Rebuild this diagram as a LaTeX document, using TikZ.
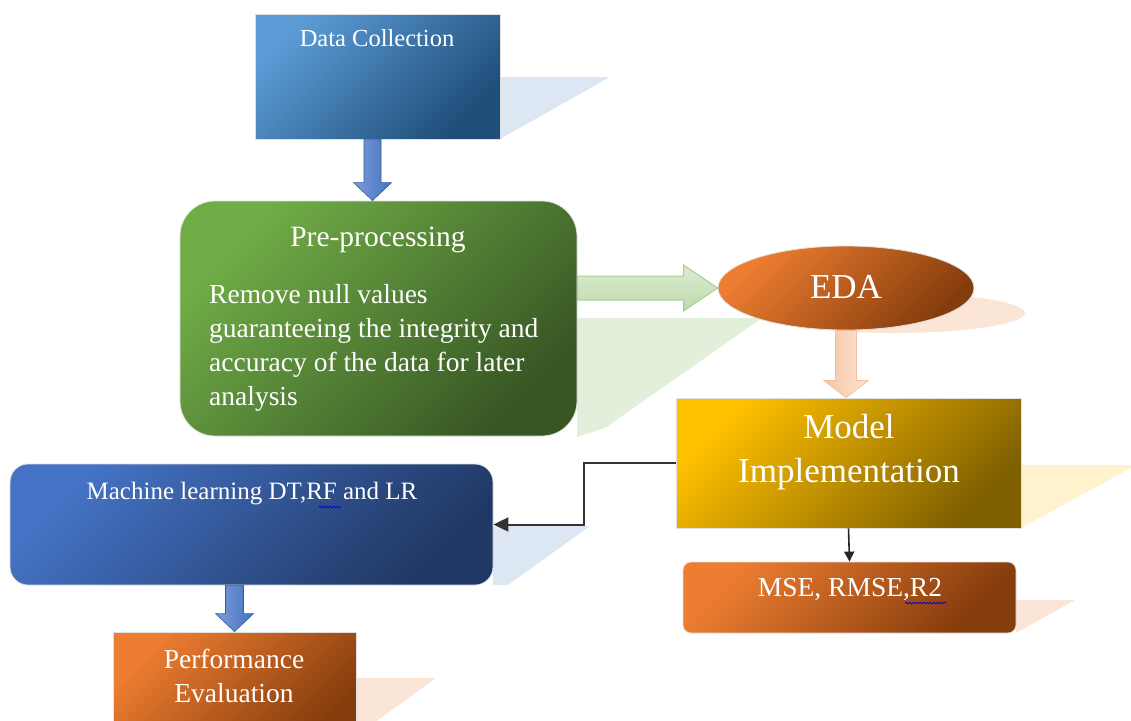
\documentclass[tikz,border=0pt]{standalone}
\usepackage{fontspec}
\setmainfont{Liberation Serif}
\usetikzlibrary{arrows.meta, positioning, shapes.geometric, calc, decorations.pathmorphing}

\definecolor{dcLight}{HTML}{5B9BD5}
\definecolor{dcDark}{HTML}{1F4E79}
\definecolor{grLight}{HTML}{70AD47}
\definecolor{grDark}{HTML}{375623}
\definecolor{orLight}{HTML}{ED7D31}
\definecolor{orDark}{HTML}{843C0C}
\definecolor{goLight}{HTML}{FFC000}
\definecolor{goDark}{HTML}{7F6000}
\definecolor{mlLight}{HTML}{4472C4}
\definecolor{mlDark}{HTML}{203864}
\definecolor{shBlue}{HTML}{DDE7F3}
\definecolor{shGreen}{HTML}{E2EFDA}
\definecolor{shPeach}{HTML}{FBE5D6}
\definecolor{shYellow}{HTML}{FFF2CC}

\begin{document}
\begin{tikzpicture}[
    x=1pt, y=-1pt,
    box/.style={draw=black!12, line width=0.8pt, inner sep=0pt},
    bluebox/.style={box, top color=dcLight, bottom color=dcDark, shading angle=45},
    greenbox/.style={box, top color=grLight, bottom color=grDark, shading angle=45},
    orangebox/.style={box, top color=orLight, bottom color=orDark, shading angle=45},
    goldbox/.style={box, top color=goLight, bottom color=goDark, shading angle=45},
    mlbox/.style={box, top color=mlLight, bottom color=mlDark, shading angle=45},
    txt/.style={text=white, inner sep=0pt},
    blockarrow/.style args={#1/#2/#3}{to path={
        ($(\tikztostart)!#1!90:(\tikztotarget)$)
        -- ($(\tikztotarget)!#3!(\tikztostart)!#1!90:(\tikztotarget)$)
        -- ($(\tikztotarget)!#3!(\tikztostart)!#2!90:(\tikztotarget)$)
        -- (\tikztotarget)
        -- ($(\tikztotarget)!#3!(\tikztostart)!#2!-90:(\tikztotarget)$)
        -- ($(\tikztotarget)!#3!(\tikztostart)!#1!-90:(\tikztotarget)$)
        -- ($(\tikztostart)!#1!-90:(\tikztotarget)$) -- cycle}},
    spell/.style={draw=blue!80!black, line width=0.7pt, decorate,
                  decoration={snake, amplitude=0.9pt, segment length=3.5pt}},
    >=Stealth
  ]
  \useasboundingbox (0,0) rectangle (1131,720);
  \clip (0,0) rectangle (1131,720);

  % Shadows
  \fill[shBlue] (500,77) -- (610,77) -- (500,139) -- cycle;
  \fill[shGreen] (577,318) -- (762,318) -- (605,428) -- (577,437) -- cycle;
  \fill[shPeach] (893,313) ellipse [x radius=132, y radius=20];
  \fill[shYellow] (1021,465) -- (1136,465) -- (1021,528) -- cycle;
  \fill[shBlue] (493,526) -- (590,526) -- (508,585) -- (493,585) -- cycle;
  \fill[shPeach] (1016,600) -- (1075,600) -- (1016,633) -- cycle;
  \fill[shPeach] (356,678) -- (436,678) -- (356,736) -- cycle;

  % Boxes
  \node[bluebox, minimum width=245, minimum height=125] (dc) at (377.5,76.5) {};
  \node[greenbox, rounded corners=35, minimum width=397, minimum height=235] (pre) at (378.5,318.5) {};
  \node[ellipse, box, top color=orLight, bottom color=orDark, shading angle=45,
        minimum width=256, minimum height=84] (eda) at (846,288) {};
  \node[goldbox, minimum width=345, minimum height=130] (model) at (848.5,463) {};
  \node[mlbox, rounded corners=18, minimum width=483, minimum height=121] (ml) at (251.5,524.5) {};
  \node[orangebox, rounded corners=8, minimum width=333, minimum height=71] (mse) at (849.5,597.5) {};
  \node[orangebox, minimum width=243, minimum height=113] (perf) at (234.5,688.5) {};

  % Texts
  \node[txt, font=\fontsize{24.5}{29}\selectfont] (dctext) at (377,38) {Data Collection};
  \node[txt, font=\fontsize{29.5}{35}\selectfont] (pretitle) at (378,240) {Pre-processing};
  \node[txt, font=\fontsize{27.5}{34.2}\selectfont, align=left, anchor=north west]
    (prebody) at (209,284) {Remove null values\\guaranteeing the integrity and\\accuracy of the data for later\\analysis};
  \node[txt, font=\fontsize{35}{44}\selectfont] (edatext) at (846,287) {EDA};
  \node[txt, font=\fontsize{35}{44}\selectfont, align=center] (modeltext) at (849,452) {Model\\Implementation};
  \node[txt, font=\fontsize{25}{30}\selectfont] (mltext) at (252,494) {Machine learning DT,RF and LR};
  \node[txt, font=\fontsize{27.5}{33}\selectfont] (msetext) at (850,590) {MSE, RMSE,R2};
  \node[txt, font=\fontsize{27.5}{34}\selectfont, align=center] (perftext) at (234,676) {Performance\\Evaluation};

  % Spelling marks
  \draw[spell] (319,507) -- (341,507);
  \draw[spell] (905,603) -- (946,603);

  % Block arrows
  \path[draw=mlLight!80!black, line width=0.6pt, left color=mlLight!70!white, right color=mlLight]
    ($(dc.south)+(-5,0)$) to[blockarrow=8.5pt/19pt/18pt] ($(dc.south |- pre.north)+(-5,0)$);
  \path[draw=grLight!60!white, line width=1pt, top color=grLight!25!white, bottom color=grLight!45!white]
    (pre.east |- eda.west) to[blockarrow=12pt/23pt/34pt] (eda.west);
  \path[draw=orLight!50!white, line width=0.8pt, left color=orLight!45!white, right color=orLight!20!white]
    (eda.south) to[blockarrow=10.5pt/22pt/17pt] (eda.south |- model.north);
  \path[draw=mlLight!80!black, line width=0.6pt, left color=mlLight!70!white, right color=mlLight]
    (perf.north |- ml.south) to[blockarrow=9pt/19pt/18pt] (perf.north);

  % Connectors
  \draw[line width=2pt, black!80, -{Triangle[length=15, width=14]}]
    (model.west) -- ++(-92,0) |- (ml.east);
  \draw[line width=1.6pt, black!85, -{Triangle[length=10, width=10]}]
    (model.south) -- (mse.north);
\end{tikzpicture}
\end{document}
